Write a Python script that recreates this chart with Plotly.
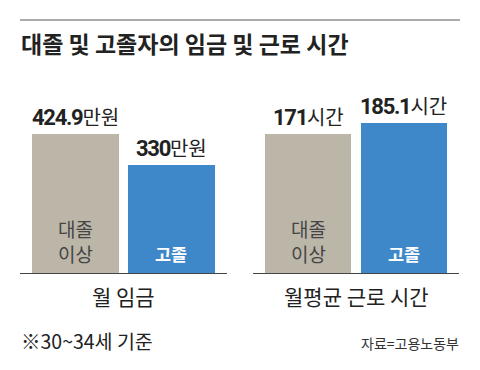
import plotly.graph_objects as go

title = "대졸 및 고졸자의 임금 및 근로 시간"
groups = ["대졸<br>이상", "고졸"]
wage_values = [424.9, 330]
wage_unit = "만원"
hours_values = [171, 185.1]
hours_unit = "시간"
panel_titles = ["월 임금", "월평균 근로 시간"]
note = "※30~34세 기준"
source = "자료=고용노동부"

bar_colors = ["#bcb6a9", "#3e87c8"]
inside_colors = ["#454545", "#ffffff"]

W, H = 480, 370
KR = "Noto Sans CJK KR"
NUM = "Roboto, 'Liberation Sans', sans-serif"

fig = go.Figure()

# pixel layout
base_px, top_px = 273, 80
ydom = [1 - base_px / H, 1 - top_px / H]
plot_h = base_px - top_px
first_bar_px = 139  # height of the first bar of each panel in the reference

panels = [
    dict(vals=wage_values, unit=wage_unit, dom=[20 / W, 227 / W], ax="", name=panel_titles[0]),
    dict(vals=hours_values, unit=hours_unit, dom=[253 / W, 459 / W], ax="2", name=panel_titles[1]),
]

xs = [0, 1]
for p in panels:
    xref = "x" + p["ax"]
    yref = "y" + p["ax"]
    fig.add_trace(go.Bar(
        x=xs, y=p["vals"], width=0.9,
        marker=dict(color=bar_colors, line=dict(width=0)),
        xaxis=xref, yaxis=yref, showlegend=False, hoverinfo="skip",
    ))
    ymax = p["vals"][0] * plot_h / first_bar_px
    key = p["ax"]
    fig.layout["xaxis" + key] = dict(
        domain=p["dom"], range=[-0.58, 1.58], showgrid=False, zeroline=False,
        showticklabels=False, ticks="", showline=True, linecolor="#444", linewidth=1,
        anchor=yref, fixedrange=True,
    )
    fig.layout["yaxis" + key] = dict(
        domain=ydom, range=[0, ymax], showgrid=False, zeroline=False,
        showticklabels=False, ticks="", showline=False, anchor=xref, fixedrange=True,
    )
    for i, v in enumerate(p["vals"]):
        fig.add_annotation(
            x=xs[i], y=v, xref=xref, yref=yref, yanchor="bottom", xanchor="center",
            yshift=1, showarrow=False,
            text=(f"<span style=\"font-family:{NUM};font-weight:bold;font-size:22px;"
                  f"letter-spacing:-1.3px\">{v:g}</span>{p['unit']}"),
            font=dict(family=KR, size=20, color="#222"),
        )
        fig.add_annotation(
            x=xs[i], y=0, xref=xref, yref=yref, yanchor="bottom", xanchor="center",
            yshift=(4 if i == 0 else 5), showarrow=False,
            text=(f"<b>{groups[i]}</b>" if i == 1 else groups[i]),
            font=dict(family=KR, size=(17.5 if i == 1 else 19), color=inside_colors[i]),
        )
    fig.add_annotation(
        x=0.5, xref=xref + " domain", y=1 - 296 / H, yref="paper",
        xanchor="center", yanchor="middle", showarrow=False,
        text=p["name"], font=dict(family=KR, size=21, color="#222"),
    )

# title and rule
fig.add_shape(type="line", xref="paper", yref="paper", x0=20 / W, x1=460 / W,
              y0=1 - 20 / H, y1=1 - 20 / H, line=dict(color="#8f8f8f", width=1.6))
fig.add_annotation(
    x=19 / W, y=1 - 43 / H, xref="paper", yref="paper", xanchor="left", yanchor="middle",
    showarrow=False, text=f"<b>{title}</b>", font=dict(family=KR, size=23, color="#222"),
)
fig.add_annotation(
    x=19 / W, y=1 - 340 / H, xref="paper", yref="paper", xanchor="left", yanchor="middle",
    showarrow=False, text=note, font=dict(family=KR, size=19.5, color="#222"),
)
fig.add_annotation(
    x=461 / W, y=1 - 343 / H, xref="paper", yref="paper", xanchor="right", yanchor="middle",
    showarrow=False, text=source, font=dict(family=KR, size=14, color="#333"),
)

fig.update_layout(
    width=W, height=H, margin=dict(l=0, r=0, t=0, b=0),
    paper_bgcolor="white", plot_bgcolor="white", bargap=0,
)

fig.write_html("out.html", config={"displayModeBar": False},
               post_script="document.body.style.margin='0px';")
